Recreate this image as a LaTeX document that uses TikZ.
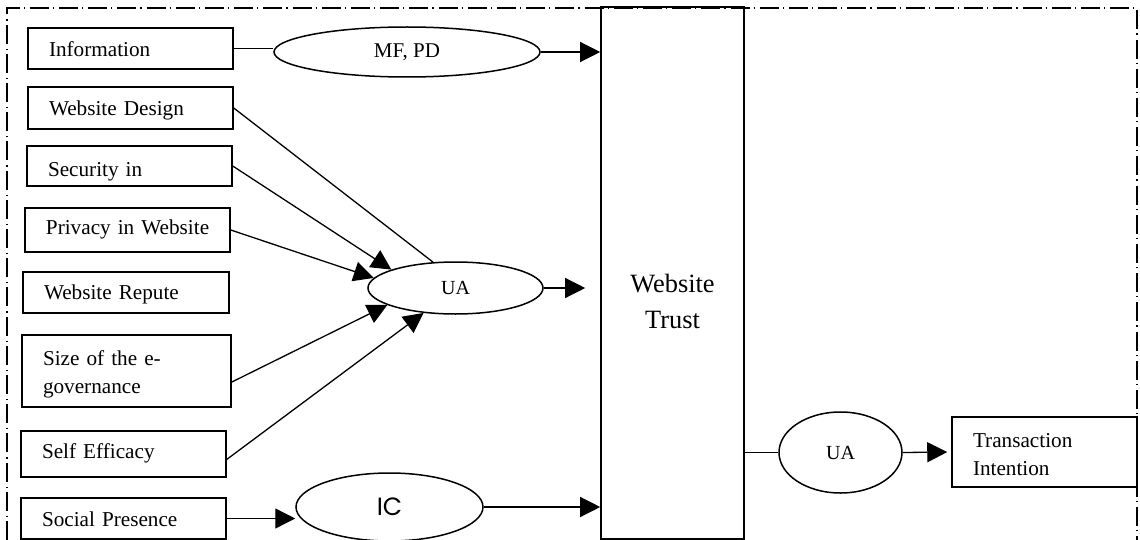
\documentclass[tikz,border=0pt]{standalone}
\usepackage{fontspec}
\setmainfont{Liberation Serif}
\newfontfamily\icfont{Poppins}
\usetikzlibrary{shapes.geometric,arrows.meta}
\newcommand\lowr[2]{\raisebox{-#1}[7pt][2.3pt]{#2}}
\begin{document}
\begin{tikzpicture}[x=0.5pt,y=-0.5pt,
  lbl/.style={font=\fontsize{10.6}{14.2}\selectfont},
  bx/.style={draw, rectangle, line width=0.75pt, inner xsep=10.5pt, inner ysep=0pt, align=left, lbl},
  ell/.style={draw, ellipse, line width=0.75pt, inner sep=0pt},
  conn/.style={line width=0.65pt},
  arr/.style={conn, -{Triangle[length=10pt,width=10pt]}},
  frame/.style={line width=0.7pt, dash pattern=on 9.5pt off 2pt on 0.6pt off 2.5pt}
]
\useasboundingbox (0,0) rectangle (1140,540);
\draw[frame] (7,540) -- (7,8) -- (1137,8) -- (1137,540);

% left boxes
\node[bx, text width=81.5pt, minimum height=20.5pt] (info) at (130.5,48.5) {\lowr{1.7pt}{Information}};
\node[bx, text width=81.5pt, minimum height=21pt] (wd) at (130.5,108) {\lowr{1.5pt}{Website Design}};
\node[bx, text width=81.5pt, minimum height=20pt] (sec) at (129.5,166) {\lowr{3pt}{Security in}};
\node[bx, text width=81.5pt, minimum height=22pt] (priv) at (127.5,230) {\lowr{0pt}{Privacy in Website}};
\node[bx, text width=82pt, minimum height=20.5pt] (rep) at (126,292.5) {\lowr{1.2pt}{Website Repute}};
\node[bx, text width=83.5pt, minimum height=36pt] (size) at (126.5,371) {\rule{0pt}{11pt}Size of the e-\\governance};
\node[bx, text width=81.5pt, minimum height=23pt] (self) at (123.5,454) {\lowr{-0.3pt}{Self Efficacy}};
\node[bx, text width=81.5pt, minimum height=20.5pt] (sp) at (123.5,518.5) {\lowr{1.7pt}{Social Presence}};

% right side
\node[bx, text width=71.5pt, minimum height=35pt] (trans) at (1044.5,452) {\rule{0pt}{9.8pt}Transaction\\Intention};
\node[draw, rectangle, line width=0.8pt, minimum width=71.5pt, minimum height=266pt, inner sep=0pt] (wt) at (672.5,273) {};
\node[font=\fontsize{13.2}{18}\selectfont, align=center] (wtl) at (672.5,301) {Website\\Trust};

% ellipses
\node[ell, minimum width=133pt, minimum height=25pt, font=\fontsize{10.5}{12}\selectfont] (mf) at (407,52) {MF, PD};
\node[ell, minimum width=87.5pt, minimum height=26pt, font=\fontsize{10}{12}\selectfont] (ua1) at (455.5,288) {UA};
\node[ell, minimum width=93.5pt, minimum height=34pt, font=\icfont\fontsize{12.5}{13}\selectfont] (ic) at (389.5,507) {IC};
\node[ell, minimum width=61.5pt, minimum height=40.5pt, font=\fontsize{10}{12}\selectfont] (ua2) at (840.5,452.5) {UA};

% connectors
\draw[conn] (info.east) -- (info.east -| mf.west);
\draw[arr] (mf.east) -- (mf.east -| wt.west);
\draw[conn] (wd.east) -- (ua1.131);
\draw[arr] (sec.east) -- (ua1.164);
\draw[arr] (priv.east) -- (ua1.173);
\draw[arr] (size.-6) -- (ua1.194);
\draw[arr] (self.-3) -- (ua1.218);
\draw[arr, shorten >=7.5pt] (ua1.east) -- (ua1.east -| wt.west);
\draw[arr] (sp.east) -- (sp.east -| ic.west);
\draw[arr] (ic.east) -- (ic.east -| wt.west);
\draw[conn] (wt.east |- ua2.west) -- (ua2.west);
\draw[arr, shorten >=2pt] (ua2.east) -- (trans.west);
\end{tikzpicture}
\end{document}
